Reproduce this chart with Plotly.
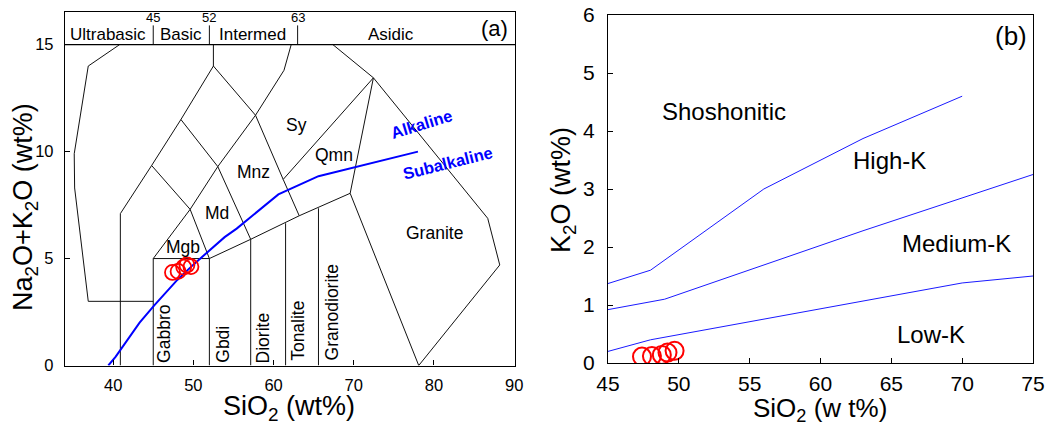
import plotly.graph_objects as go

FONT = "Liberation Sans, Arial, sans-serif"

# ---------------- Panel (a): TAS (plutonic) ----------------
ub_x = [40.8, 36.9, 35.15, 35.2, 36.9, 45.0]
ub_y = [15.0, 14.0, 9.9, 8.3, 3.0, 3.0]
gabbro_x = [45.0, 45.0, 52.0, 52.0]
gabbro_y = [0.0, 5.0, 5.0, 0.0]
a1_x = [40.9, 40.9, 44.8, 48.45, 52.5, 52.5]
a1_y = [0.0, 7.1, 9.35, 11.5, 14.0, 15.0]
a2_x = [45.0, 49.6, 53.05, 57.75, 61.3, 62.2]
a2_y = [5.0, 7.3, 9.3, 11.7, 13.8, 15.0]
a3_x = [52.0, 57.15, 63.2, 69.55]
a3_y = [5.0, 5.9, 7.0, 8.05]
b1_x = [44.8, 49.6, 52.0]
b1_y = [9.35, 7.3, 5.0]
b2_x = [48.45, 53.05, 57.15, 57.15]
b2_y = [11.5, 9.3, 5.9, 0.0]
b3_x = [52.5, 57.75, 61.2, 63.2]
b3_y = [14.0, 11.7, 8.7, 7.0]
ton_x = [61.5, 61.5]
ton_y = [0.0, 6.65]
grd_x = [65.6, 65.6]
grd_y = [0.0, 7.35]
qmn_l_x = [61.2, 72.45]
qmn_l_y = [8.7, 13.45]
qmn_r_x = [69.55, 72.45]
qmn_r_y = [8.05, 13.45]
asid_x = [67.4, 72.45]
asid_y = [15.0, 13.45]
granite_x = [69.55, 78.1, 88.2, 86.7, 72.45]
granite_y = [8.05, 0.0, 4.7, 6.88, 13.45]

# Alkaline / Subalkaline divide
ib_x = [39.4, 40.3, 43.3, 45.1, 48.0, 50.1, 53.9, 55.4, 60.6, 65.6, 78.0]
ib_y = [0.0, 0.4, 2.0, 2.8, 4.0, 4.75, 6.0, 6.4, 8.0, 8.85, 10.0]

# silica divisions at the top
div_vals = [45, 52, 63]
div_labels = ["45", "52", "63"]
class_names = ["Ultrabasic", "Basic", "Intermed", "Asidic"]
class_x = [39.35, 48.45, 57.4, 74.7]

field_names = ["Sy", "Qmn", "Mnz", "Md", "Mgb", "Granite"]
field_x = [62.9, 67.55, 57.5, 52.95, 48.7, 80.05]
field_y = [11.25, 9.85, 9.05, 7.15, 5.52, 6.2]

vert_names = ["Gabbro", "Gbdi", "Diorite", "Tonalite", "Granodiorite"]
vert_x = [46.4, 53.65, 58.65, 62.95, 67.25]
vert_y = [1.5, 1.0, 1.3, 1.63, 2.47]

# samples
sio2 = [47.4, 48.1, 48.8, 49.2, 49.7]
alk = [4.35, 4.4, 4.6, 4.7, 4.62]
k2o = [0.11, 0.12, 0.14, 0.18, 0.21]

# ---------------- Panel (b): K2O vs SiO2 ----------------
shk_x = [45, 48, 56, 63, 70]
shk_y = [1.37, 1.6, 3.0, 3.87, 4.6]
hk_x = [45, 49, 63, 75]
hk_y = [0.92, 1.1, 2.28, 3.25]
mk_x = [45, 48, 70, 75]
mk_y = [0.2, 0.4, 1.38, 1.5]
series_names = ["Shoshonitic", "High-K", "Medium-K", "Low-K"]
series_x = [53.2, 64.9, 69.6, 67.8]
series_y = [4.33, 3.5, 2.06, 0.5]

fig = go.Figure()

black_lines = [(ub_x, ub_y), (gabbro_x, gabbro_y), (a1_x, a1_y), (a2_x, a2_y),
               (a3_x, a3_y), (b1_x, b1_y), (b2_x, b2_y), (b3_x, b3_y),
               (ton_x, ton_y), (grd_x, grd_y), (qmn_l_x, qmn_l_y),
               (qmn_r_x, qmn_r_y), (asid_x, asid_y), (granite_x, granite_y)]
for xs, ys in black_lines:
    fig.add_trace(go.Scatter(x=xs, y=ys, mode="lines",
                             line=dict(color="#111111", width=1),
                             xaxis="x", yaxis="y", showlegend=False,
                             hoverinfo="skip"))
for v in div_vals:
    fig.add_trace(go.Scatter(x=[v, v], y=[15, 15.9], mode="lines",
                             line=dict(color="#111111", width=1),
                             xaxis="x", yaxis="y", showlegend=False,
                             hoverinfo="skip"))
fig.add_trace(go.Scatter(x=ib_x, y=ib_y, mode="lines",
                         line=dict(color="#0000ff", width=2),
                         xaxis="x", yaxis="y", showlegend=False))
fig.add_trace(go.Scatter(x=sio2, y=alk, mode="markers",
                         marker=dict(symbol="circle-open", size=15, color="red",
                                     line=dict(width=1.8, color="red")),
                         xaxis="x", yaxis="y", showlegend=False))

for xs, ys in [(shk_x, shk_y), (hk_x, hk_y), (mk_x, mk_y)]:
    fig.add_trace(go.Scatter(x=xs, y=ys, mode="lines",
                             line=dict(color="#1a1aff", width=1),
                             xaxis="x2", yaxis="y2", showlegend=False))
fig.add_trace(go.Scatter(x=sio2, y=k2o, mode="markers",
                         marker=dict(symbol="circle-open", size=18, color="red",
                                     line=dict(width=2, color="red")),
                         xaxis="x2", yaxis="y2", showlegend=False))


def note(x, y, text, size, xref="x", yref="y", angle=0, color="black"):
    return dict(x=x, y=y, text=text, xref=xref, yref=yref, showarrow=False,
                xanchor="center", yanchor="middle", textangle=angle,
                font=dict(size=size, color=color, family=FONT))


ann = []
for v, t in zip(div_vals, div_labels):
    ann.append(note(v, 16.27, t, 13))
for t, x in zip(class_names, class_x):
    ann.append(note(x, 15.49, t, 17))
for t, x, y in zip(field_names, field_x, field_y):
    ann.append(note(x, y, t, 17.5))
for t, x, y in zip(vert_names, vert_x, vert_y):
    ann.append(note(x, y, t, 17.5, angle=-90))
ann.append(note(78.45, 11.27, "<b>Alkaline</b>", 16.5, angle=-17, color="#0000ff"))
ann.append(note(81.7, 9.45, "<b>Subalkaline</b>", 16.5, angle=-14, color="#0000ff"))
ann.append(note(87.6, 15.77, "(a)", 22))

for t, x, y in zip(series_names, series_x, series_y):
    ann.append(note(x, y, t, 24, xref="x2", yref="y2"))
ann.append(note(73.44, 5.63, "(b)", 26, xref="x2", yref="y2"))

# axis titles
ann.append(note(288.7 / 1045, 1 - 408 / 425, "SiO<sub>2</sub> (wt%)", 27,
                xref="paper", yref="paper"))
ann.append(note(25 / 1045, 1 - 207 / 425, "Na<sub>2</sub>O+K<sub>2</sub>O (wt%)", 27,
                xref="paper", yref="paper", angle=-90))
ann.append(note(820 / 1045, 1 - 409 / 425, "SiO<sub>2</sub> (w t%)", 26,
                xref="paper", yref="paper"))
ann.append(note(563 / 1045, 1 - 190 / 425, "K<sub>2</sub>O (wt%)", 27,
                xref="paper", yref="paper", angle=-90))

common = dict(showgrid=False, zeroline=False, showline=True, mirror=True,
              linecolor="black", linewidth=1.3, ticks="inside", ticklen=5,
              tickcolor="black", tickwidth=1, automargin=False)

fig.update_layout(
    template="none",
    width=1045, height=425,
    margin=dict(l=0, r=0, t=0, b=0, pad=0),
    paper_bgcolor="white", plot_bgcolor="white",
    font=dict(family=FONT, color="black"),
    showlegend=False,
    xaxis=dict(domain=[65 / 1045, 515 / 1045], range=[34, 90.1],
               tickvals=[40, 50, 60, 70, 80, 90], anchor="y",
               tickfont=dict(size=16.5), ticklabelstandoff=5, **common),
    yaxis=dict(domain=[1 - 365.5 / 425, 1 - 11.5 / 425], range=[0, 16.55],
               tickvals=[0, 5, 10, 15], anchor="x",
               tickfont=dict(size=16.5), ticklabelstandoff=7, **common),
    xaxis2=dict(domain=[608 / 1045, 1033 / 1045], range=[45, 75],
                tickvals=[45, 50, 55, 60, 65, 70, 75], anchor="y2",
                tickfont=dict(size=21), ticklabelstandoff=2, **common),
    yaxis2=dict(domain=[1 - 363 / 425, 1 - 15 / 425], range=[0, 6],
                tickvals=[0, 1, 2, 3, 4, 5, 6], anchor="x2",
                tickfont=dict(size=21), ticklabelstandoff=8, **common),
    annotations=ann,
    shapes=[dict(type="line", xref="x domain", yref="y", x0=0, x1=1, y0=15, y1=15,
                 line=dict(color="black", width=1.2))],
)

fig.write_html("out.html",
               config={"displayModeBar": False},
               post_script="document.body.style.margin='0';"
                           "document.body.style.overflow='hidden';")
